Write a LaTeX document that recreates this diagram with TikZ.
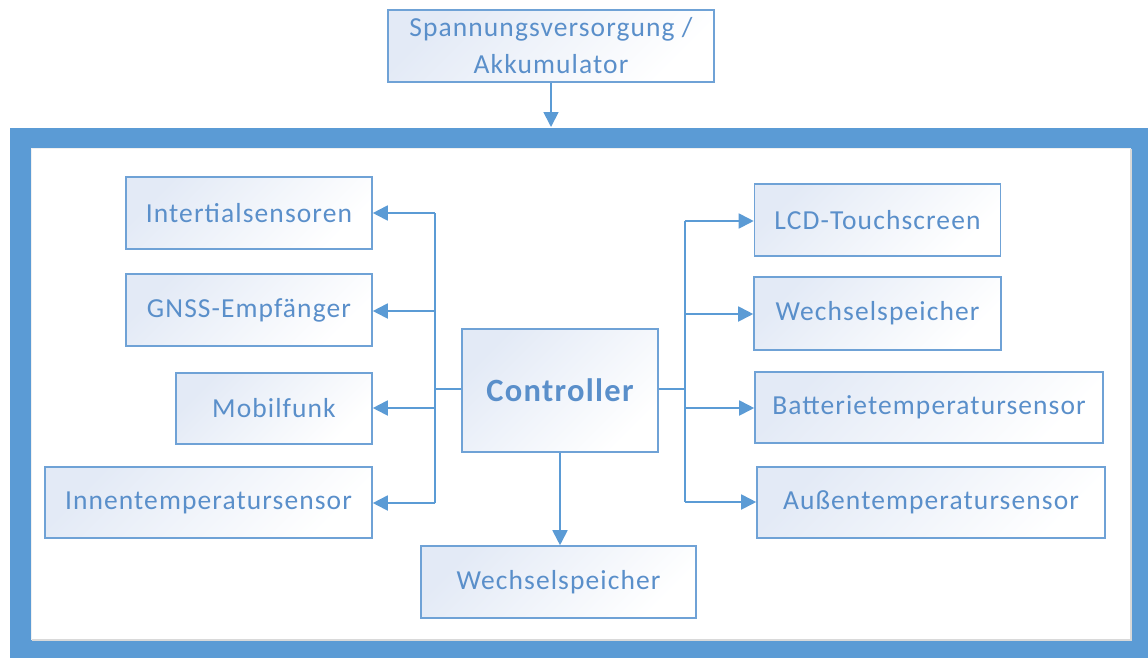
\documentclass[tikz,border=0pt]{standalone}
\usepackage{fontspec}
\setmainfont{Carlito}[LetterSpace=4]
\usetikzlibrary{arrows.meta}
\definecolor{frameblue}{HTML}{5B9BD5}
\definecolor{boxline}{HTML}{6FA2D6}
\definecolor{boxtext}{HTML}{5A8FCA}
\definecolor{boxtint}{HTML}{E3EAF6}
\definecolor{linkblue}{HTML}{5B9BD5}
\tikzset{
  blockbox/.style={draw=boxline, line width=1.6pt, top color=boxtint, bottom color=white,
    shading angle=45, text=boxtext, font=\fontsize{27.5}{37}\selectfont,
    inner sep=0pt, align=center},
  link/.style={draw=linkblue, line width=1.8pt},
  arrowlink/.style={link, -{Triangle[length=15pt,width=15pt]}},
}
\begin{document}
\begin{tikzpicture}[x=1pt,y=-1pt]
  \useasboundingbox (0,0) rectangle (1148,657);
  % outer frame
  \fill[frameblue] (10,128) rectangle (1160,670);
  \fill[white] (31,148) rectangle (1131,640);
  \draw[black!15, line width=1.2pt] (31.6,640) -- (1131,640) -- (1131,148.6);
  \draw[black!6, line width=1pt] (31.5,640) -- (31.5,148.5) -- (1131,148.5);

  % blocks
  \node[blockbox, minimum width=326pt, minimum height=72pt] (pwr) at (551,46)
    {\raisebox{-2pt}{Spannungsversorgung /}\\\raisebox{-2pt}{Akkumulator}};
  \node[blockbox, minimum width=196pt, minimum height=123pt,
        font=\fontsize{32.5}{38}\selectfont\bfseries] (ctl) at (560,390.5) {Controller};

  \node[blockbox, minimum width=246pt, minimum height=72pt] (ins) at (249,213) {Intertialsensoren};
  \node[blockbox, minimum width=246pt, minimum height=72pt] (gnss) at (249,310) {GNSS-Empfänger};
  \node[blockbox, minimum width=196pt, minimum height=71pt] (mob) at (274,408.5) {Mobilfunk};
  \node[blockbox, minimum width=327pt, minimum height=71pt] (inn) at (208.5,502.5) {Innentemperatursensor};

  \node[blockbox, minimum width=246pt, minimum height=72pt] (lcd) at (877.5,220) {LCD-Touchscreen};
  \node[blockbox, minimum width=247pt, minimum height=73pt] (wsr) at (877.5,313.5) {Wechselspeicher};
  \node[blockbox, minimum width=348pt, minimum height=71pt] (bat) at (929,407.5) {Batterietemperatursensor};
  \node[blockbox, minimum width=348pt, minimum height=71pt] (aus) at (931,502.5) {Außentemperatursensor};

  \node[blockbox, minimum width=275pt, minimum height=72pt] (wsb) at (558.5,582) {Wechselspeicher};

  % power feed into the frame
  \coordinate (feed) at (551,127);
  \draw[arrowlink] (pwr.south) -- (feed);

  % left bus
  \coordinate (lb) at (435,389);
  \draw[link] (ctl.west |- lb) -- (lb);
  \draw[link] (435,213) -- (435,503);
  \draw[arrowlink] (435,213) -- (ins.east |- 435,213);
  \draw[arrowlink] (435,311) -- (gnss.east |- 435,311);
  \draw[arrowlink] (435,408) -- (mob.east |- 435,408);
  \draw[arrowlink] (435,503) -- (inn.east |- 435,503);

  % right bus
  \coordinate (rb) at (685,389);
  \draw[link] (ctl.east |- rb) -- (rb);
  \draw[link] (685,221) -- (685,502);
  \draw[arrowlink] (685,221) -- (lcd.west |- 685,221);
  \draw[arrowlink] (685,314) -- (wsr.west |- 685,314);
  \draw[arrowlink] (685,408) -- (bat.west |- 685,408);
  \draw[arrowlink] (685,502) -- (aus.west |- 685,502);

  % down to removable storage
  \draw[arrowlink] (ctl.south) -- (ctl.south |- wsb.north);
\end{tikzpicture}
\end{document}
